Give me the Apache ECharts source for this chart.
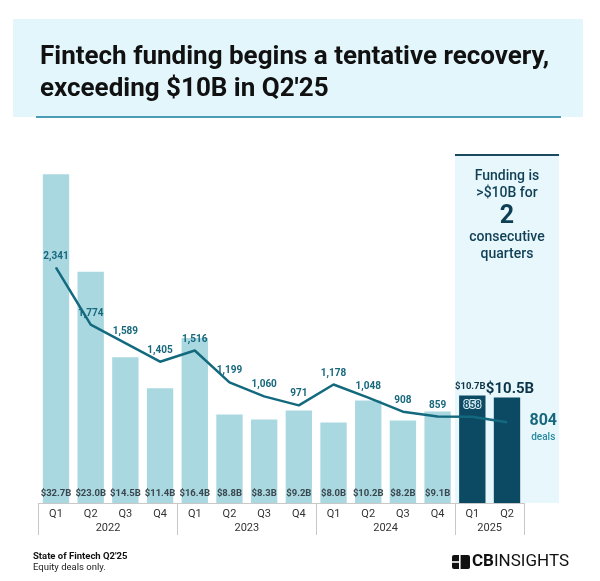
<!DOCTYPE html>
<html>
<head>
<meta charset="utf-8">
<script src="https://cdn.jsdelivr.net/npm/echarts@6/dist/echarts.min.js"></script>
<style>
html,body{margin:0;padding:0;background:#fff;}
#chart{width:600px;height:581px;}
</style>
</head>
<body>
<div id="chart"></div>
<script>
// ---- data ----
const quarters = ['Q1','Q2','Q3','Q4','Q1','Q2','Q3','Q4','Q1','Q2','Q3','Q4','Q1','Q2'];
const years = ['2022','2023','2024','2025'];
const yearSpans = [4,4,4,2];
const fundingB = [32.7,23.0,14.5,11.4,16.4,8.8,8.3,9.2,8.0,10.2,8.2,9.1,10.7,10.5];
const deals = [2341,1774,1589,1405,1516,1199,1060,971,1178,1048,908,859,858,804];
const highlighted = [12,13];

// ---- derived ----
const categories = [];
{ let k = 0; years.forEach((y,i)=>{ for(let j=0;j<yearSpans[i];j++){ categories.push(y+' '+quarters[k]); k++; } }); }
const yearBounds = [0];
yearSpans.forEach(s=>yearBounds.push(yearBounds[yearBounds.length-1]+s));
const yearCenters = years.map((y,i)=>(yearBounds[i]+yearBounds[i+1])/2);

const LIGHT = '#a9d8e1', DARK = '#0c4a63', LINE = '#13697e', TEXT_DARK = '#3a464c', TEAL = '#17687d';
const fontFam = 'Roboto, "Noto Sans", sans-serif';
const fmtB = v => '$' + v.toFixed(1) + 'B';

const barData = fundingB.map((v,i)=>{
  const hi = highlighted.includes(i);
  if (!hi) return {value:v, itemStyle:{color:LIGHT}};
  const big = i === highlighted[highlighted.length-1];
  return {value:v, itemStyle:{color:DARK}, label:{show:true, position:'top', distance: big?1:4,
    offset: big?[3,0]:[-2,0],
    formatter: fmtB(v), color:'#0d3549', fontSize: big?15:9.5, fontWeight:'bold', fontFamily:fontFam}};
});

const lineData = deals.map((v,i)=>{
  if (i === deals.length-1) {
    return {value:v, label:{show:true, position:'right', distance:22, offset:[0,6],
      formatter:'{a|'+v.toLocaleString('en-US')+'}\n{b|deals}',
      rich:{a:{fontSize:16,fontWeight:'bold',color:TEAL,fontFamily:fontFam,align:'center',lineHeight:19},
            b:{fontSize:10,fontWeight:500,color:'#2a8aa0',fontFamily:fontFam,align:'center',lineHeight:14}}}};
  }
  if (highlighted.includes(i)) {
    return {value:v, label:{color:'#0c4a63', textBorderColor:'#d8eef3', textBorderWidth:2}};
  }
  return v;
});

const chart = echarts.init(document.getElementById('chart'), null, {renderer:'canvas'});
const option = {
  animation:false,
  backgroundColor:'#ffffff',
  title:{
    text:'Fintech funding begins a tentative recovery,\nexceeding $10B in Q2\'25',
    left:35, top:36,
    textStyle:{fontSize:26, fontWeight:'bold', color:'#111', lineHeight:32, fontFamily:fontFam}
  },
  grid:{left:38.65, right:75.65, top:151, bottom:78, containLabel:false},
  xAxis:[
    {type:'category', data:categories, position:'bottom',
     axisLine:{show:true, lineStyle:{color:'#c8c8c8', width:1}},
     axisTick:{show:false},
     axisLabel:{formatter:v=>v.split(' ')[1], margin:6, fontSize:11, color:'#333', fontFamily:fontFam}},
    {type:'value', min:0, max:categories.length, position:'bottom',
     axisLine:{show:false}, splitLine:{show:false},
     axisTick:{show:true, customValues:yearBounds, length:32, lineStyle:{color:'#c8c8c8', width:1}},
     axisLabel:{customValues:yearCenters, margin:20, fontSize:11, color:'#333', fontFamily:fontFam,
       formatter:v=>{ const i = yearCenters.indexOf(v); return i>=0?years[i]:''; }}}
  ],
  yAxis:[
    {type:'value', min:0, max:35, show:false, splitLine:{show:false}},
    {type:'value', min:0, max:3500, show:false, splitLine:{show:false}}
  ],
  series:[
    {type:'bar', xAxisIndex:0, yAxisIndex:0, data:barData, barWidth:'76%',
     label:{show:true, position:'insideBottom', distance:4, formatter:p=>fmtB(p.value),
       color:TEXT_DARK, fontSize:9.5, fontWeight:'bold', fontFamily:fontFam}},
    {type:'line', xAxisIndex:0, yAxisIndex:1, data:lineData, symbol:'circle', symbolSize:1, showSymbol:true, z:5,
     itemStyle:{color:LINE},
     lineStyle:{color:LINE, width:2.5},
     label:{show:true, position:'top', distance:6, formatter:p=>p.value.toLocaleString('en-US'),
       color:TEAL, fontSize:10, fontWeight:'bold', fontFamily:fontFam}}
  ]
};
chart.setOption(option);

// ---- annotation graphics computed from axes ----
const px = v => chart.convertToPixel({xAxisIndex:1}, v);
const py = v => chart.convertToPixel({yAxisIndex:0}, v);
const catW = px(1) - px(0);
const panelL = px(highlighted[0]);
const panelR = panelL + catW*3;
const panelT = py(34.6);
const baseY = py(0);
const panelC = panelL + (panelR-panelL)/2;
const pText = {fill:'#0f3f55', fontSize:14, fontWeight:500, fontFamily:fontFam, align:'center', verticalAlign:'middle'};

chart.setOption({graphic:[
  {type:'rect', z:-10, shape:{x:13, y:19, width:570, height:98}, style:{fill:'#e3f6fc'}},
  {type:'line', z:-9, shape:{x1:36, y1:117, x2:561, y2:117}, style:{stroke:'#4a9db5', lineWidth:2}},
  {type:'rect', z:-10, shape:{x:panelL, y:panelT, width:panelR-panelL, height:baseY-panelT}, style:{fill:'#e8f7fc'}},
  {type:'line', z:-9, shape:{x1:panelL, y1:panelT, x2:panelR, y2:panelT}, style:{stroke:'#1b4a60', lineWidth:2}},
  {type:'text', x:panelC, y:panelT+21, style:Object.assign({}, pText, {text:'Funding is'})},
  {type:'text', x:panelC, y:panelT+38, style:Object.assign({}, pText, {text:'>$10B for'})},
  {type:'text', x:panelC, y:panelT+62, style:Object.assign({}, pText, {text:'2', fontSize:25, fontWeight:'bold'})},
  {type:'text', x:panelC, y:panelT+82, style:Object.assign({}, pText, {text:'consecutive'})},
  {type:'text', x:panelC, y:panelT+99, style:Object.assign({}, pText, {text:'quarters'})},
  {type:'text', x:33, y:557, style:{text:"State of Fintech Q2'25", fill:'#111', fontSize:9.5, fontWeight:'bold', fontFamily:fontFam, verticalAlign:'middle'}},
  {type:'text', x:33, y:568, style:{text:'Equity deals only.', fill:'#222', fontSize:9.5, fontFamily:fontFam, verticalAlign:'middle'}},
  {type:'group', children:[
    {type:'rect', shape:{x:452, y:555, width:18, height:14, r:2}, style:{fill:'#111'}},
    {type:'rect', shape:{x:459, y:555, width:1.6, height:14}, style:{fill:'#fff'}},
    {type:'rect', shape:{x:452, y:561.2, width:7, height:1.6}, style:{fill:'#fff'}},
    {type:'text', x:472, y:562, style:{text:'{a|CB}{b|INSIGHTS}', verticalAlign:'middle',
      rich:{a:{fontSize:17, fontWeight:'bold', fill:'#111', fontFamily:fontFam},
            b:{fontSize:17, fontWeight:'normal', fill:'#111', fontFamily:fontFam}}}}
  ]}
]});
</script>
</body>
</html>
